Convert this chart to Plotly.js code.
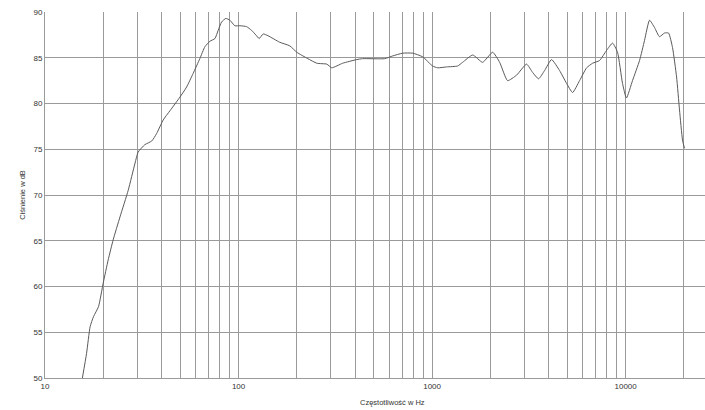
<!DOCTYPE html>
<html>
<head>
<meta charset="utf-8">
<script src="https://cdn.plot.ly/plotly-3.0.1.min.js"></script>
<style>html,body{margin:0;padding:0;background:#fff}#chart{width:705px;height:410px}</style>
</head>
<body>
<div id="chart"></div>
<script>
// Frequency (Hz)
const freq = [15.6, 16.4, 17.1, 17.8, 18.9, 20.0, 21.2, 22.5, 24.4, 26.9, 29.2, 30.3, 32.8, 35.6, 37.7, 40.8,
  44.2, 49.8, 53.9, 58.3, 63.1, 67.0, 71.1, 75.5, 78.5, 81.7, 86.0, 90.2, 95.7, 101.6, 110.0, 116.7, 122.8, 127.8, 134.0, 142.2,
  163, 184, 200, 228, 254,
  286, 303, 345, 408, 438, 569, 626, 705, 794, 894, 1006, 1069, 1189, 1355, 1438, 1621, 1824, 2055, 2234, 2455, 2733,
  3077, 3305, 3548, 3812, 4142, 4557, 4953, 5318, 5781, 6285, 6750, 7333, 7967, 8556, 9078, 9634, 10094, 10850, 11800,
  12520, 13290, 14100, 14960, 15870, 16660, 17470, 18330, 18980, 19670, 20140];
// Sound pressure level (dB)
const spl = [50.0, 52.7, 55.6, 56.7, 57.8, 60.4, 62.9, 65.1, 67.6, 70.5, 73.5, 74.7, 75.5, 75.9, 76.7, 78.2,
  79.2, 80.7, 81.8, 83.3, 84.9, 86.2, 86.8, 87.1, 88.0, 88.9, 89.3, 89.1, 88.5, 88.5, 88.4, 88.0, 87.5, 87.1, 87.6, 87.4,
  86.7, 86.3, 85.6, 84.9, 84.4,
  84.3, 83.9, 84.4, 84.8, 84.9, 84.9, 85.2, 85.5, 85.5, 85.1, 84.1, 83.9, 84.0, 84.1, 84.5, 85.3, 84.5, 85.6, 84.5, 82.5, 83.1,
  84.3, 83.4, 82.7, 83.6, 84.8, 83.6, 82.2, 81.2, 82.5, 83.9, 84.4, 84.7, 85.8, 86.6, 85.6, 82.2, 80.6, 82.5, 84.7,
  86.9, 89.1, 88.3, 87.3, 87.7, 87.7, 86.1, 82.9, 79.3, 76.0, 75.1];

const xGridVals = [10,20,30,40,50,60,70,80,90,100,200,300,400,500,600,700,800,900,
  1000,2000,3000,4000,5000,6000,7000,8000,9000,10000,20000];
const xTickText = ['10','','','','','','','','','100','','','','','','','','',
  '1000','','','','','','','','','10000',''];
const yTickVals = [50,55,60,65,70,75,80,85,90];

const xTitle = 'Częstotliwość w Hz';
const yTitle = 'Ciśnienie w dB';

Plotly.newPlot('chart', [{
  x: freq, y: spl, type: 'scatter', mode: 'lines',
  line: {color: '#5a5a5a', width: 1, shape: 'spline', smoothing: 0.5},
  hoverinfo: 'skip'
}], {
  width: 705, height: 410,
  margin: {l: 45, r: 0, t: 12, b: 32},
  paper_bgcolor: '#ffffff', plot_bgcolor: '#ffffff',
  showlegend: false,
  font: {family: 'Liberation Sans, Arial, sans-serif', size: 8, color: '#333333'},
  xaxis: {
    type: 'log', range: [1, 4.41],
    tickmode: 'array', tickvals: xGridVals, ticktext: xTickText,
    showgrid: true, gridcolor: '#9a9a9a', gridwidth: 1,
    showline: true, linecolor: '#9a9a9a', linewidth: 1,
    ticks: '', ticklen: 0, zeroline: false,
    tickfont: {size: 8, color: '#333333'}
  },
  yaxis: {
    range: [50, 90], tickmode: 'array', tickvals: yTickVals,
    showgrid: true, gridcolor: '#9a9a9a', gridwidth: 1,
    showline: true, linecolor: '#9a9a9a', linewidth: 1,
    ticks: '', zeroline: false,
    tickfont: {size: 8, color: '#333333'},
    title: {text: yTitle, font: {size: 7.5, color: '#333333'}, standoff: 6}
  },
  annotations: [{
    text: xTitle, xref: 'paper', yref: 'paper', x: 0.527, y: 0, yshift: -18,
    xanchor: 'center', yanchor: 'top', showarrow: false,
    font: {size: 7.5, color: '#333333'}
  }]
}, {displayModeBar: false, staticPlot: true});
</script>
</body>
</html>
